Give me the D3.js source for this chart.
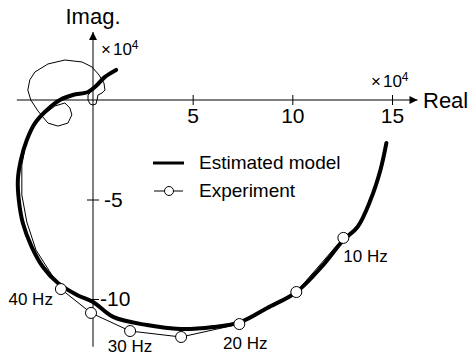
<!DOCTYPE html>
<html>
<head>
<meta charset="utf-8">
<script src="https://cdn.jsdelivr.net/npm/d3@7"></script>
<style>
  body { margin: 0; background: #fff; }
  svg { display: block; font-family: "Liberation Sans", Arial, sans-serif; }
</style>
</head>
<body>
<div id="chart"></div>
<script>
// estimated model (thick line), units of 1e4
var modelRe = [14.72, 14.42, 13.92, 13.27, 12.56, 11.46, 10.20, 8.74, 7.39, 6.03, 4.37, 2.71, 1.01, 0.00, -0.80, -1.76, -2.51, -3.07, -3.52, -3.72, -3.77, -3.62, -3.32, -2.91, -2.31, -1.66, -1.01, -0.25, 0.15, 0.60, 1.16];
var modelIm = [-2.16, -3.52, -5.03, -6.38, -7.04, -8.39, -9.65, -10.45, -11.16, -11.41, -11.51, -11.31, -10.90, -10.15, -9.80, -9.20, -8.39, -7.39, -6.18, -5.03, -4.02, -3.02, -2.01, -1.16, -0.50, 0.00, 0.25, 0.40, 0.70, 1.16, 1.51];

// experiment (thin line with markers)
var markerHz = [10, 15, 20, 25, 30, 35, 40];
var markerRe = [12.56, 10.20, 7.34, 4.42, 1.86, -0.10, -1.61];
var markerIm = [-6.93, -9.65, -11.26, -11.91, -11.61, -10.70, -9.50];
var labelHz = ["10 Hz", "", "20 Hz", "", "30 Hz", "", "40 Hz"];

// high frequency part of the experiment (no markers)
var tailRe = [-2.16, -2.86, -3.32, -3.57, -3.57, -3.37, -3.02, -2.56, -1.91, -1.41, -1.16, -1.06, -1.26, -1.76, -2.26, -2.76, -3.12, -3.27, -3.17, -2.91, -2.26, -1.41, -0.55, -0.05, 0.30, 0.55, 0.60, 0.45, 0.25, 0.20, 0.15, 0.00, -0.15, -0.25, -0.25, -0.15];
var tailIm = [-8.64, -7.54, -6.13, -4.77, -3.27, -2.16, -1.41, -0.80, -0.30, -0.15, -0.40, -0.75, -1.16, -1.31, -1.16, -0.55, 0.00, 0.50, 1.01, 1.41, 1.81, 2.01, 1.91, 1.66, 1.26, 0.85, 0.50, 0.35, 0.25, 0.00, -0.20, -0.25, -0.20, 0.00, 0.25, 0.35];

var xTicks = [5, 10, 15];
var yTicks = [-5, -10];

var width = 472, height = 358;

var svg = d3.select("#chart").append("svg")
  .attr("width", width)
  .attr("height", height);

var x = d3.scaleLinear().domain([0, 15]).range([93, 392]);
var y = d3.scaleLinear().domain([0, -10]).range([100, 299]);

// arrow head
svg.append("defs").append("marker")
  .attr("id", "arrow")
  .attr("viewBox", "0 0 10 10")
  .attr("refX", 10).attr("refY", 5)
  .attr("markerWidth", 10).attr("markerHeight", 8)
  .attr("markerUnits", "userSpaceOnUse")
  .attr("orient", "auto")
  .append("path")
  .attr("d", "M0,0 L10,5 L0,10 Z")
  .attr("fill", "#000");

// axis lines
svg.append("line")
  .attr("x1", x(-3.82)).attr("x2", x(16.28))
  .attr("y1", y(0)).attr("y2", y(0))
  .attr("stroke", "#000").attr("stroke-width", 1)
  .attr("marker-end", "url(#arrow)");

svg.append("line")
  .attr("x1", x(0)).attr("x2", x(0))
  .attr("y1", y(-12.4)).attr("y2", y(3.42))
  .attr("stroke", "#000").attr("stroke-width", 1)
  .attr("marker-end", "url(#arrow)");

// x axis ticks
var xAxis = d3.axisBottom(x).tickValues(xTicks).tickSizeInner(5).tickSizeOuter(0).tickPadding(6);
var gx = svg.append("g").attr("transform", "translate(0," + y(0) + ")").call(xAxis);
gx.select(".domain").remove();
gx.selectAll(".tick line").attr("y1", -5).attr("y2", 5);
gx.selectAll(".tick text")
  .style("font-family", "Liberation Sans, Arial, sans-serif")
  .style("font-size", "21px")
  .attr("y", 8);

// y axis ticks
var yAxis = d3.axisRight(y).tickValues(yTicks).tickSizeInner(6).tickSizeOuter(0).tickPadding(4)
  .tickFormat(d3.format("d"));
var gy = svg.append("g").attr("transform", "translate(" + x(0) + ",0)").call(yAxis);
gy.select(".domain").remove();
gy.selectAll(".tick line").attr("x1", -6).attr("x2", 6);
gy.selectAll(".tick text")
  .text(d => "-" + Math.abs(d))
  .style("font-family", "Liberation Sans, Arial, sans-serif")
  .style("font-size", "21px")
  .attr("x", d => d === -5 ? 11 : 7);

// axis titles
svg.append("text")
  .attr("x", x(0)).attr("y", 24)
  .attr("text-anchor", "middle")
  .style("font-size", "22px")
  .text("Imag.");

svg.append("text")
  .attr("x", 423).attr("y", y(0) + 8)
  .style("font-size", "22px")
  .text("Real");

// x10^4 multipliers
function scaleLabel(px, py) {
  var t = svg.append("text").attr("x", px).attr("y", py).style("font-size", "17px");
  t.append("tspan").text("\u00d7");
  t.append("tspan").attr("dx", 2).text("10");
  t.append("tspan").attr("dy", -6).style("font-size", "12px").text("4");
}
scaleLabel(101, 55);
scaleLabel(371, 87);

// experiment line
var expPts = markerRe.map((d, i) => [d, markerIm[i]])
  .concat(tailRe.map((d, i) => [d, tailIm[i]]));

var lineGen = d3.line().x(d => x(d[0])).y(d => y(d[1]));

svg.append("path")
  .attr("d", lineGen(expPts))
  .attr("fill", "none")
  .attr("stroke", "#000")
  .attr("stroke-width", 1);

// model line
var modelPts = modelRe.map((d, i) => [d, modelIm[i]]);
svg.append("path")
  .attr("d", d3.line().x(d => x(d[0])).y(d => y(d[1])).curve(d3.curveCatmullRom)(modelPts))
  .attr("fill", "none")
  .attr("stroke", "#000")
  .attr("stroke-width", 4)
  .attr("stroke-linejoin", "round")
  .attr("stroke-linecap", "round");

// markers
svg.append("g").selectAll("circle")
  .data(markerRe)
  .enter()
  .append("circle")
  .attr("cx", d => x(d))
  .attr("cy", (d, i) => y(markerIm[i]))
  .attr("r", 5.5)
  .attr("fill", "#fff")
  .attr("stroke", "#000")
  .attr("stroke-width", 1);

// frequency labels
var labelOffset = [[0, 24, "start"], null, [6, 25, "middle"], null, [0, 21, "middle"], null, [-8, 16, "end"]];
labelHz.forEach((t, i) => {
  if (!t) return;
  var o = labelOffset[i];
  svg.append("text")
    .attr("x", x(markerRe[i]) + o[0])
    .attr("y", y(markerIm[i]) + o[1])
    .attr("text-anchor", o[2])
    .style("font-size", "17px")
    .text(t);
});

// legend
var legend = svg.append("g");
legend.append("line")
  .attr("x1", 153).attr("x2", 184).attr("y1", 163).attr("y2", 163)
  .attr("stroke", "#000").attr("stroke-width", 3);
legend.append("text")
  .attr("x", 199).attr("y", 169)
  .style("font-size", "19px")
  .text("Estimated model");
legend.append("line")
  .attr("x1", 154).attr("x2", 183).attr("y1", 191).attr("y2", 191)
  .attr("stroke", "#000").attr("stroke-width", 1);
legend.append("circle")
  .attr("cx", 169).attr("cy", 191).attr("r", 4.5)
  .attr("fill", "#fff").attr("stroke", "#000");
legend.append("text")
  .attr("x", 199).attr("y", 197)
  .style("font-size", "19px")
  .text("Experiment");
</script>
</body>
</html>
